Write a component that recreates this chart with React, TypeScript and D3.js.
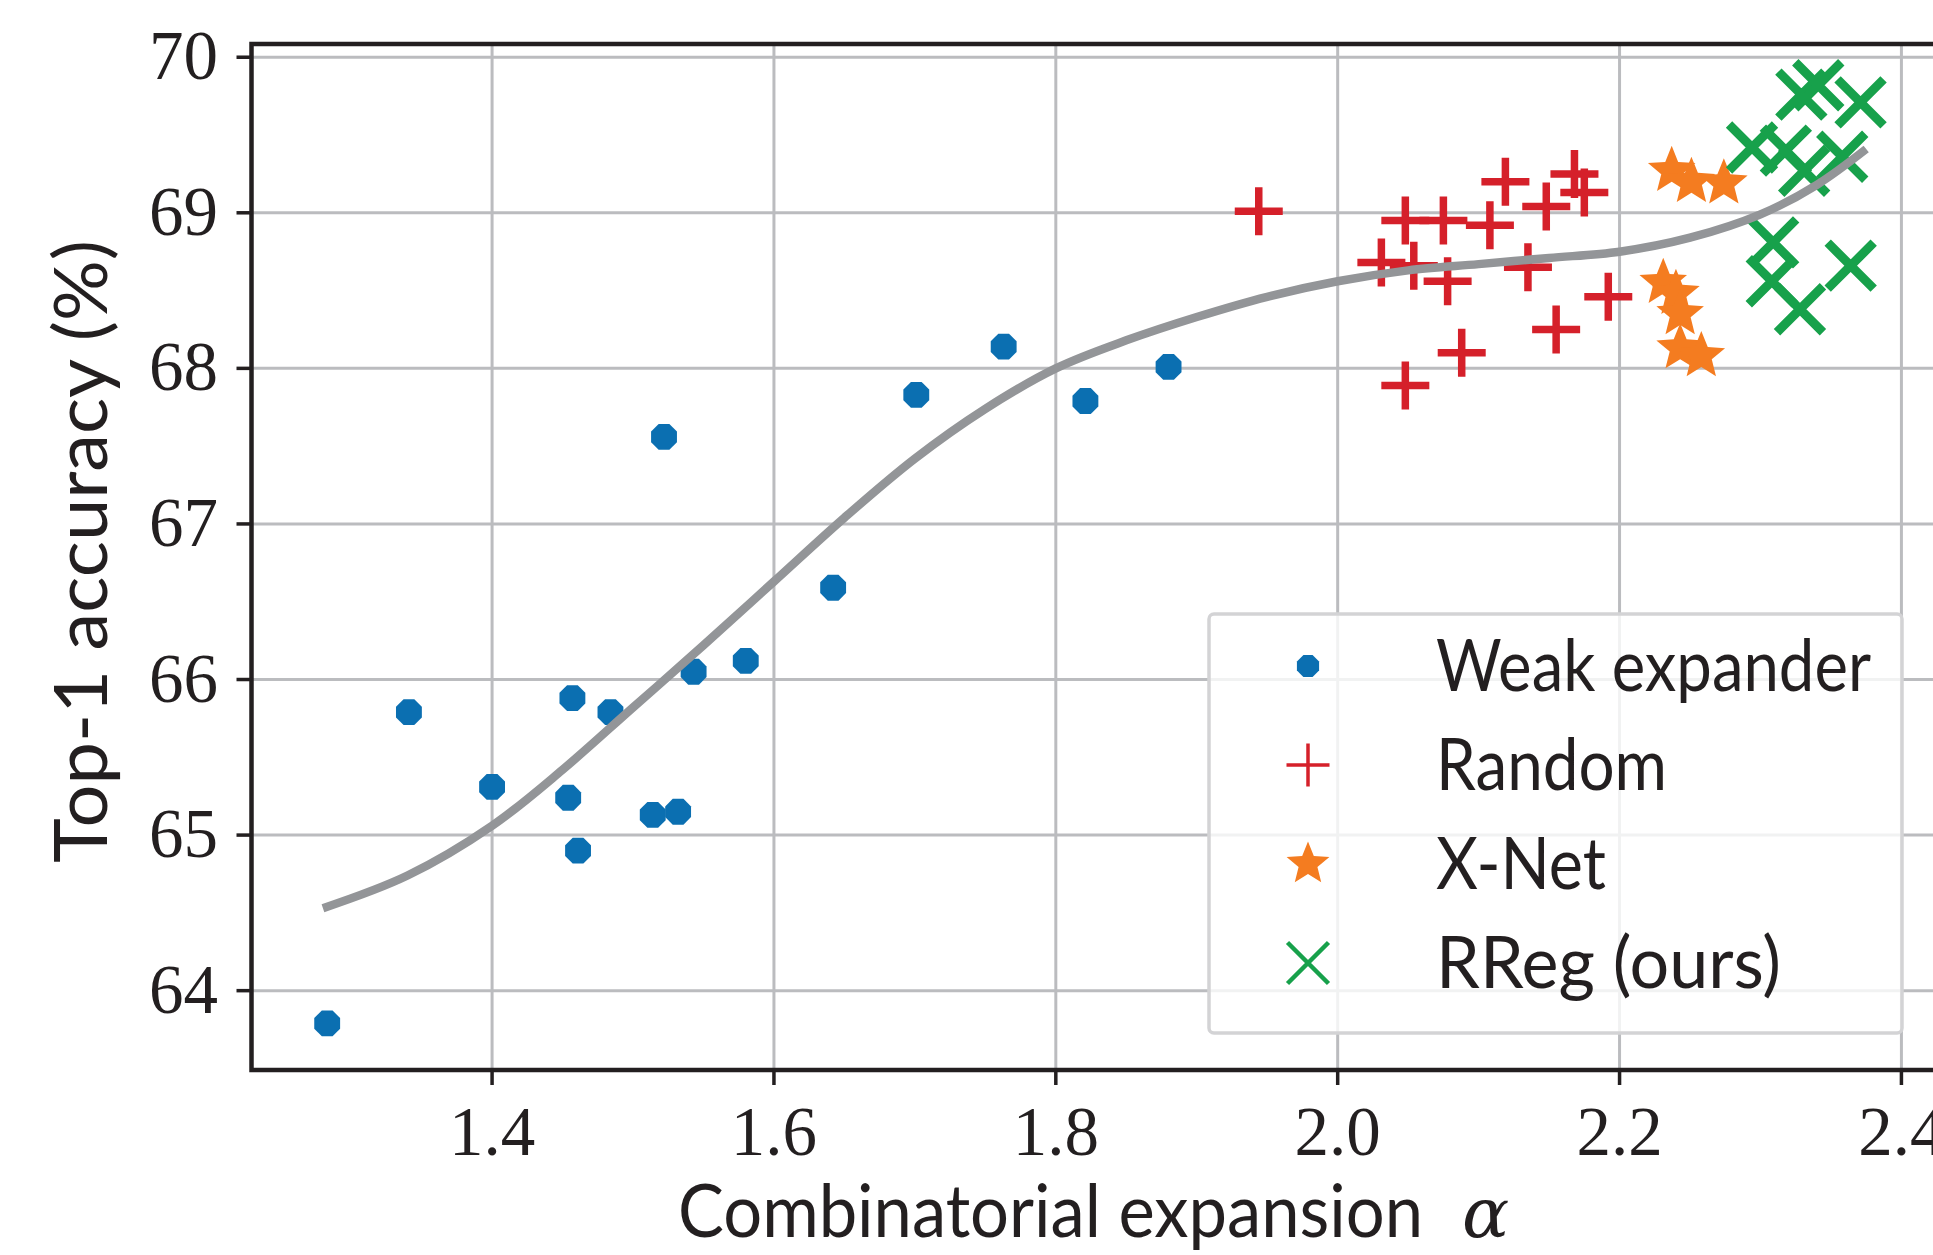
import * as d3 from 'd3'
import React, { useEffect, useRef } from 'react'

// Weak expander points (alpha, top-1 %)
const weakX = [1.283, 1.341, 1.400, 1.454, 1.457, 1.461, 1.484, 1.514, 1.532, 1.522, 1.543, 1.580, 1.642, 1.701, 1.763, 1.821, 1.880]
const weakY = [63.79, 65.79, 65.31, 65.24, 65.88, 64.90, 65.79, 65.13, 65.15, 67.56, 66.05, 66.12, 66.59, 67.83, 68.14, 67.79, 68.01]

// Random graphs
const randomX = [1.944, 2.048, 2.075, 2.108, 2.119, 2.148, 2.168, 2.175, 2.031, 2.054, 2.078, 2.135, 2.192, 2.155, 2.088, 2.048]
const randomY = [69.01, 68.95, 68.95, 68.92, 69.20, 69.04, 69.25, 69.13, 68.68, 68.66, 68.56, 68.65, 68.46, 68.25, 68.10, 67.89]

// X-Net
const xnetX = [2.237, 2.251, 2.274, 2.231, 2.240, 2.243, 2.243, 2.258]
const xnetY = [69.27, 69.20, 69.19, 68.55, 68.48, 68.35, 68.13, 68.08]

// RReg (ours)
const rregX = [2.329, 2.341, 2.371, 2.294, 2.318, 2.358, 2.331, 2.309, 2.308, 2.364, 2.328]
const rregY = [69.76, 69.82, 69.71, 69.42, 69.40, 69.36, 69.27, 68.81, 68.56, 68.66, 68.38]

// grey trend curve
const fitX = [1.28, 1.34, 1.40, 1.45, 1.50, 1.55, 1.60, 1.65, 1.70, 1.75, 1.80, 1.85, 1.90, 1.95, 2.00, 2.05, 2.10, 2.15, 2.20, 2.25, 2.30, 2.34, 2.375]
const fitY = [64.53, 64.74, 65.06, 65.42, 65.82, 66.22, 66.63, 67.04, 67.42, 67.74, 68.00, 68.18, 68.33, 68.46, 68.56, 68.63, 68.67, 68.71, 68.75, 68.84, 68.99, 69.18, 69.41]

const xTicks = [1.4, 1.6, 1.8, 2.0, 2.2, 2.4]
const yTicks = [64, 65, 66, 67, 68, 69, 70]
const legendLabels = ['Weak expander', 'Random', 'X-Net', 'RReg (ours)']
const legendWidths = [435, 231, 170, 345]

const BLUE = '#0b6fb1'
const RED = '#d5202a'
const ORANGE = '#f47c20'
const GREEN = '#17a14b'
const FIT = '#939598'
const GRID = '#bbbcbf'
const INK = '#231f20'

const SANS = 'Lato, "Open Sans", sans-serif'
const SERIF = '"Liberation Serif", "DejaVu Serif", serif'

// marker paths
const octagon = (r) => {
    const pts = d3.range(8).map(k => {
        const a = (Math.PI / 8) + k * Math.PI / 4
        return [r * Math.cos(a), r * Math.sin(a)]
    })
    return 'M' + pts.map(p => p.join(',')).join('L') + 'Z'
}
const star = (R) => {
    const r = R * 0.44
    const pts = d3.range(10).map(k => {
        const a = -Math.PI / 2 + k * Math.PI / 5
        const rr = k % 2 === 0 ? R : r
        return [rr * Math.cos(a), rr * Math.sin(a)]
    })
    return 'M' + pts.map(p => p.join(',')).join('L') + 'Z'
}
const plus = (h) => `M${-h},0H${h}M0,${-h}V${h}`
const cross = (h) => `M${-h},${-h}L${h},${h}M${-h},${h}L${h},${-h}`

const App = () => {
    const ref = useRef(null)

    useEffect(() => {
        const W = 1933
        const H = 1255
        const left = 251.5, top = 44, bottom = 1070, right = 1943

        const x = d3.scaleLinear().domain([1.2293, 2.4295]).range([left, right])
        const y = d3.scaleLinear().domain([63.49, 70.085]).range([bottom, top])

        d3.select(ref.current).selectAll('*').remove()
        const svg = d3.select(ref.current)
            .append('svg')
            .attr('width', W)
            .attr('height', H)
            .style('position', 'absolute')
            .style('left', 0)
            .style('top', 0)
            .style('background', '#fff')

        // grid
        svg.append('g').selectAll('line').data(xTicks).enter().append('line')
            .attr('x1', d => x(d)).attr('x2', d => x(d))
            .attr('y1', top).attr('y2', bottom)
            .attr('stroke', GRID).attr('stroke-width', 3)
        svg.append('g').selectAll('line').data(yTicks).enter().append('line')
            .attr('x1', left).attr('x2', right)
            .attr('y1', d => y(d)).attr('y2', d => y(d))
            .attr('stroke', GRID).attr('stroke-width', 3)

        // weak expander
        svg.append('g').selectAll('path').data(weakX).enter().append('path')
            .attr('transform', (d, i) => `translate(${x(d)},${y(weakY[i])})`)
            .attr('d', octagon(14))
            .attr('fill', BLUE)

        // random
        svg.append('g').selectAll('path').data(randomX).enter().append('path')
            .attr('transform', (d, i) => `translate(${x(d)},${y(randomY[i])})`)
            .attr('d', plus(24))
            .attr('fill', 'none').attr('stroke', RED).attr('stroke-width', 7.5)

        // x-net
        svg.append('g').selectAll('path').data(xnetX).enter().append('path')
            .attr('transform', (d, i) => `translate(${x(d)},${y(xnetY[i])})`)
            .attr('d', star(25))
            .attr('fill', ORANGE)

        // rreg
        svg.append('g').selectAll('path').data(rregX).enter().append('path')
            .attr('transform', (d, i) => `translate(${x(d)},${y(rregY[i])})`)
            .attr('d', cross(23))
            .attr('fill', 'none').attr('stroke', GREEN).attr('stroke-width', 9)

        // trend line
        const line = d3.line().curve(d3.curveCatmullRom.alpha(0.5))
        svg.append('path')
            .attr('d', line(fitX.map((d, i) => [x(d), y(fitY[i])])))
            .attr('fill', 'none').attr('stroke', FIT).attr('stroke-width', 8.5)

        // frame
        svg.append('rect')
            .attr('x', left).attr('y', top)
            .attr('width', right - left).attr('height', bottom - top)
            .attr('fill', 'none').attr('stroke', INK).attr('stroke-width', 4.5)

        // ticks
        svg.append('g').selectAll('line').data(xTicks).enter().append('line')
            .attr('x1', d => x(d)).attr('x2', d => x(d))
            .attr('y1', bottom).attr('y2', bottom + 15)
            .attr('stroke', INK).attr('stroke-width', 3.5)
        svg.append('g').selectAll('text').data(xTicks).enter().append('text')
            .attr('x', d => x(d)).attr('y', 1155)
            .attr('text-anchor', 'middle')
            .style('font-family', SERIF).style('font-size', '69px').attr('fill', INK)
            .text(d => d3.format('.1f')(d))
        svg.append('g').selectAll('line').data(yTicks).enter().append('line')
            .attr('x1', left - 15).attr('x2', left)
            .attr('y1', d => y(d)).attr('y2', d => y(d))
            .attr('stroke', INK).attr('stroke-width', 3.5)
        svg.append('g').selectAll('text').data(yTicks).enter().append('text')
            .attr('x', 218).attr('y', d => y(d) + 22)
            .attr('text-anchor', 'end')
            .style('font-family', SERIF).style('font-size', '69px').attr('fill', INK)
            .text(d => d)

        // axis labels
        svg.append('text')
            .attr('x', 678).attr('y', 1237)
            .attr('textLength', 745).attr('lengthAdjust', 'spacingAndGlyphs')
            .style('font-family', SANS).style('font-size', '74px').attr('fill', INK)
            .text('Combinatorial expansion')
        svg.append('text')
            .attr('x', 1462).attr('y', 1237)
            .style('font-family', '"DejaVu Serif", serif').style('font-style', 'italic')
            .style('font-size', '70px').attr('fill', INK)
            .text('α')
        svg.append('text')
            .attr('transform', 'translate(107,551.5) rotate(-90)')
            .attr('text-anchor', 'middle')
            .attr('textLength', 623).attr('lengthAdjust', 'spacingAndGlyphs')
            .style('font-family', SANS).style('font-size', '74px').attr('fill', INK)
            .text('Top-1 accuracy (%)')

        // legend
        const lg = svg.append('g')
        lg.append('rect')
            .attr('x', 1209).attr('y', 614).attr('width', 693).attr('height', 419)
            .attr('rx', 5)
            .attr('fill', '#fff').attr('fill-opacity', 0.8)
            .attr('stroke', '#d3d3d5').attr('stroke-width', 3.5)
        const rows = legendLabels.map((d, i) => ({ label: d, w: legendWidths[i], cy: 666 + i * 99 }))
        const marks = [
            { d: octagon(12), fill: BLUE, stroke: 'none', sw: 0 },
            { d: plus(21.5), fill: 'none', stroke: RED, sw: 3.5 },
            { d: star(22.5), fill: ORANGE, stroke: 'none', sw: 0 },
            { d: cross(20.5), fill: 'none', stroke: GREEN, sw: 4.5 },
        ]
        lg.selectAll('path').data(rows).enter().append('path')
            .attr('transform', d => `translate(1308,${d.cy})`)
            .attr('d', (_, i) => marks[i].d)
            .attr('fill', (_, i) => marks[i].fill)
            .attr('stroke', (_, i) => marks[i].stroke)
            .attr('stroke-width', (_, i) => marks[i].sw)
        lg.selectAll('text').data(rows).enter().append('text')
            .attr('x', 1436).attr('y', d => d.cy + 25)
            .attr('textLength', d => d.w).attr('lengthAdjust', 'spacingAndGlyphs')
            .style('font-family', SANS).style('font-size', '72px').attr('fill', INK)
            .text(d => d.label)
    }, [])

    return <div ref={ref} />
}

export default App
